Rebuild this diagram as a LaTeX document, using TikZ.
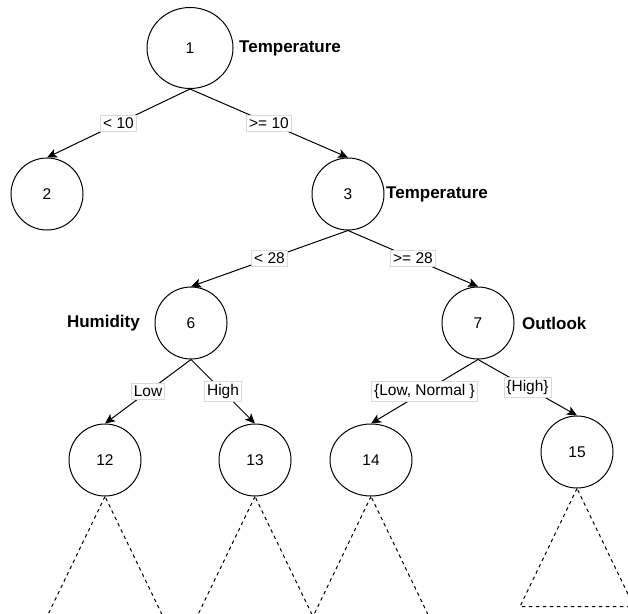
\documentclass[tikz,border=0pt]{standalone}
\usepackage{fontspec}
\setmainfont{Liberation Sans}
\usetikzlibrary{arrows.meta,shapes.geometric}
\tikzset{
  treenode/.style={draw,ellipse,line width=1pt,minimum width=72pt,minimum height=72pt,inner sep=0pt,font=\fontsize{15.5}{18}\selectfont},
  attr/.style={inner sep=0pt,font=\fontsize{17}{20}\selectfont\bfseries},
  branch/.style={line width=1pt,-{Stealth[length=10pt,width=9pt,inset=2.5pt]}},
  cond/.style={fill=white,draw=black!15,line width=0.6pt,inner xsep=2.5pt,inner ysep=2.5pt,font=\fontsize{15.5}{18}\selectfont},
  subtree/.style={line width=1pt,dash pattern=on 3.5pt off 3.5pt}
}
\begin{document}
\begin{tikzpicture}[x=1pt,y=-1pt]
  \clip (0,0) rectangle (628,613);
  % nodes
  \node[treenode,minimum width=86pt,minimum height=81pt] (n1) at (190,48) {1};
  \node[treenode] (n2) at (47,194) {2};
  \node[treenode] (n3) at (348,194) {3};
  \node[treenode] (n6) at (191,323) {6};
  \node[treenode] (n7) at (478,323) {7};
  \node[treenode] (n12) at (105,460) {12};
  \node[treenode] (n13) at (255,460) {13};
  \node[treenode,minimum width=82pt] (n14) at (371,460) {14};
  \node[treenode] (n15) at (577,452) {15};
  % split attributes
  \node[attr,anchor=west] (a1) at (239,48) {Temperature};
  \node[attr,anchor=west] (a3) at (386,194) {Temperature};
  \node[attr,anchor=east] (a6) at (140,323) {Humidity};
  \node[attr,anchor=west] (a7) at (522,323) {Outlook};
  % branches
  \draw[branch] (n1.south) -- node[cond] {< 10} (n2.north);
  \draw[branch] (n1.south) -- node[cond] {>= 10} (n3.north);
  \draw[branch] (n3.south) -- node[cond] {< 28} (n6.north);
  \draw[branch] (n3.south) -- node[cond] {>= 28} (n7.north);
  \draw[branch] (n6.south) -- node[cond] {Low} (n12.north);
  \draw[branch] (n6.south) -- node[cond] {High} (n13.north);
  \draw[branch] (n7.south) -- node[cond] {\{Low, Normal \}} (n14.north);
  \draw[branch] (n7.south) -- node[cond] {\{High\}} (n15.north);
  % subtrees
  \foreach \leaf in {n12,n13,n14,n15}
    \draw[subtree] (\leaf.south) -- ++(-57,118) -- ++(114,0) -- cycle;
\end{tikzpicture}
\end{document}
